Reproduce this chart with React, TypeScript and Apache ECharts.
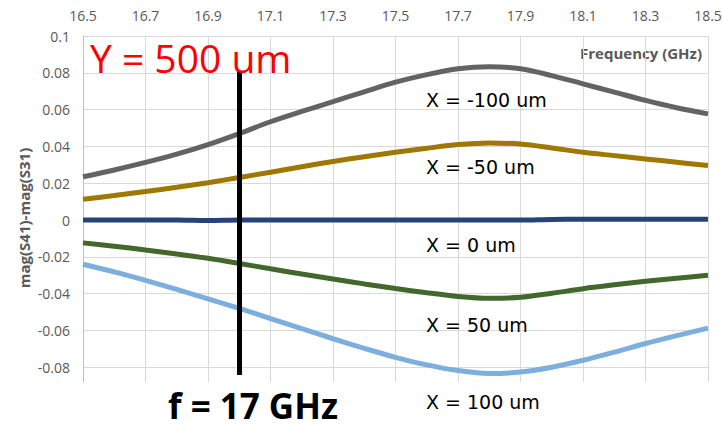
import React, { useEffect, useRef } from "react";
import * as echarts from "echarts";

const freq = [16.5, 16.6, 16.7, 16.8, 16.9, 17.0, 17.1, 17.2, 17.3, 17.4, 17.5, 17.6, 17.7, 17.8, 17.9, 18.0, 18.1, 18.2, 18.3, 18.4, 18.5];
const xm100 = [0.0235, 0.0272, 0.0313, 0.0358, 0.041, 0.047, 0.0534, 0.059, 0.0643, 0.0697, 0.0749, 0.079, 0.0822, 0.0833, 0.0822, 0.0785, 0.074, 0.0695, 0.065, 0.061, 0.0577];
const xm50 = [0.0113, 0.0133, 0.0155, 0.0178, 0.0203, 0.0231, 0.026, 0.029, 0.0318, 0.0344, 0.0368, 0.039, 0.041, 0.0419, 0.0413, 0.0392, 0.0368, 0.035, 0.0332, 0.0314, 0.0296];
const x0 = [0, 0, 0, 0, -0.0003, 0, 0, 0, 0, 0, 0, 0, 0, 0, 0, 0.0003, 0.0004, 0.0004, 0.0004, 0.0004, 0.0004];
const x50 = [-0.0124, -0.0142, -0.0163, -0.0184, -0.0208, -0.0236, -0.0265, -0.0293, -0.032, -0.0347, -0.0372, -0.0395, -0.0415, -0.0425, -0.042, -0.0398, -0.0373, -0.0352, -0.0333, -0.0316, -0.03];
const x100 = [-0.024, -0.0282, -0.0328, -0.0377, -0.0428, -0.048, -0.0535, -0.059, -0.0645, -0.0697, -0.0746, -0.0787, -0.0818, -0.0834, -0.0826, -0.08, -0.0762, -0.0718, -0.0671, -0.0628, -0.0587];

const xTicks = [16.5, 16.7, 16.9, 17.1, 17.3, 17.5, 17.7, 17.9, 18.1, 18.3, 18.5];
const yTicks = [-0.08, -0.06, -0.04, -0.02, 0, 0.02, 0.04, 0.06, 0.08, 0.1];

const seriesNames = ["X = -100 um", "X = -50 um", "X = 0 um", "X = 50 um", "X = 100 um"];
const seriesColors = ["#636363", "#9E7800", "#264478", "#43682B", "#7CAFDD"];
const seriesData = [xm100, xm50, x0, x50, x100];
const labelY = [100, 167, 245, 325, 402];

const markerFreq = 17;

const fmt = (v: number) => String(parseFloat(Number(v).toFixed(3)));

export default function App() {
  const ref = useRef<HTMLDivElement>(null);
  useEffect(() => {
    if (!ref.current) return;
    const chart = echarts.init(ref.current, null, { renderer: "svg" });
    const series: any[] = seriesData.map((vals, i) => ({
      name: seriesNames[i],
      type: "line",
      data: freq.map((f, j) => [f, vals[j]]),
      showSymbol: false,
      smooth: 0.3,
      lineStyle: { color: seriesColors[i], width: 5 },
      itemStyle: { color: seriesColors[i] },
      z: 2,
    }));
    series[2].markLine = {
      silent: true,
      symbol: ["none", "none"],
      label: { show: false },
      lineStyle: { color: "#000000", width: 5, type: "solid" },
      data: [[{ coord: [markerFreq, 0.081] }, { coord: [markerFreq, -0.0842] }]],
      z: 10,
    };
    chart.setOption({
      animation: false,
      backgroundColor: "#ffffff",
      grid: { left: 83, right: 14, top: 36, bottom: 48, containLabel: false, outerBoundsMode: "none" },
      xAxis: {
        type: "value",
        position: "top",
        min: 16.5,
        max: 18.5,
        axisLine: { show: false },
        axisTick: { show: false, customValues: xTicks },
        axisLabel: {
          customValues: xTicks,
          color: "#595959",
          fontSize: 14,
          fontFamily: "Open Sans",
          margin: 14,
          formatter: fmt,
        },
        splitLine: { show: true, lineStyle: { color: "#D9D9D9", width: 1 } },
      },
      yAxis: {
        type: "value",
        min: -0.088,
        max: 0.1,
        axisLine: { show: true, lineStyle: { color: "#BFBFBF", width: 1 } },
        axisTick: { show: false, customValues: yTicks },
        axisLabel: {
          customValues: yTicks,
          color: "#595959",
          fontSize: 14,
          fontFamily: "Open Sans",
          margin: 13,
          formatter: fmt,
        },
        splitLine: { show: true, lineStyle: { color: "#D9D9D9", width: 1 } },
      },
      series,
      graphic: [
        {
          type: "text",
          x: 24,
          y: 218,
          rotation: Math.PI / 2,
          style: {
            text: "mag(S41)-mag(S31)",
            fill: "#595959",
            font: "bold 15px 'Open Sans'",
            align: "center",
            verticalAlign: "middle",
          },
        },
        {
          type: "text",
          x: 702,
          y: 53,
          style: {
            text: "Frequency (GHz)",
            fill: "#595959",
            font: "bold 15px 'Open Sans'",
            align: "right",
            verticalAlign: "middle",
          },
        },
        {
          type: "text",
          x: 90,
          y: 57,
          z: 20,
          style: {
            text: "Y = 500 um",
            fill: "#FF0000",
            font: "39px 'Open Sans'",
            align: "left",
            verticalAlign: "middle",
          },
        },
        {
          type: "text",
          x: 168,
          y: 405,
          style: {
            text: "f = 17 GHz",
            fill: "#000000",
            font: "bold 35px 'Open Sans'",
            align: "left",
            verticalAlign: "middle",
          },
        },
        ...seriesNames.map((n, i) => ({
          type: "text",
          x: 426,
          y: labelY[i],
          z: 20,
          style: {
            text: n,
            fill: "#000000",
            font: "19px 'DejaVu Sans'",
            align: "left",
            verticalAlign: "middle",
          },
        })),
      ],
    });
    return () => chart.dispose();
  }, []);
  return <div ref={ref} style={{ width: 722, height: 430, position: "absolute", left: 0, top: 0 }} />;
}
